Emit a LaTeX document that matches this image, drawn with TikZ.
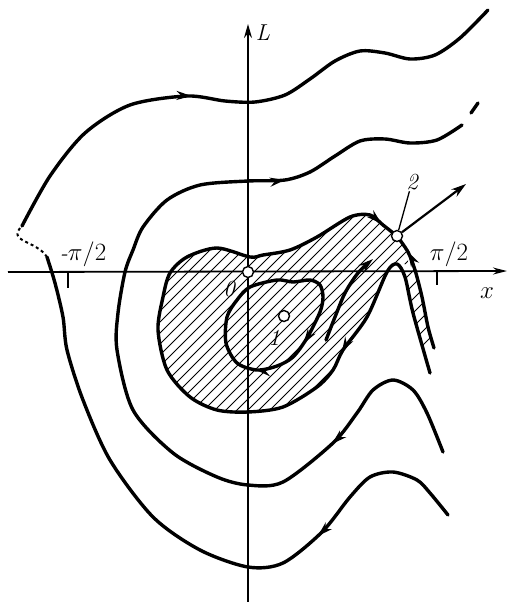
\documentclass[tikz,border=0pt]{standalone}
\usetikzlibrary{arrows.meta,decorations.markings}
\tikzset{
  traj/.style={line width=3.4pt,line cap=round,line join=round},
  onearrow/.style={postaction={decorate},decoration={markings,
    mark=at position #1 with {\arrow{Stealth[length=15pt,width=9pt]}}}},
  twoarrows/.style 2 args={postaction={decorate},decoration={markings,
    mark=at position #1 with {\arrow{Stealth[length=15pt,width=9pt]}},
    mark=at position #2 with {\arrow{Stealth[length=15pt,width=9pt]}}}},
  pt/.style={circle,draw,fill=white,line width=1.4pt,inner sep=0pt,minimum size=11pt},
  hatch/.style={line width=0.9pt},
  lab/.style={font=\fontsize{23}{27}\selectfont\itshape,inner sep=1pt}
}
\begin{document}
\begin{tikzpicture}[x=1pt,y=-1pt,>=Stealth,thick]
  \useasboundingbox (0,0) rectangle (508,602);
  \coordinate (c0) at (248,272);
  \coordinate (c1) at (284,316);
  \coordinate (c2) at (397,236);
  \coordinate (out2) at (466,184);
  % axes
  \draw[line width=1.8pt,-{Stealth[length=14pt,width=8pt]}] (248,602) -- (248,24);
  \draw[line width=1.8pt,-{Stealth[length=14pt,width=7pt]}] (8,272) -- (507,271);
  \draw[line width=1.5pt] (68,272) -- (68,288);
  \draw[line width=1.5pt] (437,271) -- (437,285);
  % hatched region
  \begin{scope}
    \clip plot[smooth cycle] coordinates {(397,263) (387,272) (367,317) (343,350) (333,370) (317,387)
      (283,407) (248,412) (217,410) (190,397) (167,370) (158,330) (163,297) (170,273) (187,257)
      (217,248) (250,257) (263,255) (290,250) (317,237) (350,217) (370,215) (383,225) (397,237)
      (405,250) (408,264)};
    \foreach \c in {350,361,...,840} \draw[hatch] (\c-460,460) -- (\c-200,200);
  \end{scope}
  \begin{scope}
    \clip (405,277) -- (413,313) -- (423,350) -- (434,348) -- (428,327) -- (422,297) -- (414,268) -- cycle;
    \foreach \c in {684,698,...,790} \draw[hatch] (\c-460,460) -- (\c-200,200);
  \end{scope}
  % trajectories
  \draw[traj,onearrow=0.27] plot[smooth] coordinates {(448,515) (430,493) (417,480) (393,472) (370,477)
    (350,497) (322,532) (283,563) (248,567) (200,550) (153,517) (110,460) (83,400) (67,350) (63,317)
    (55,283) (47,257)};
  \draw[line width=2pt,dashed] (47,257) .. controls (36,240) and (6,242) .. (22,226);
  \draw[traj,onearrow=0.41] plot[smooth] coordinates {(22,226) (50,176) (85,133) (130,105) (187,96)
    (225,101) (255,102) (285,95) (310,79) (335,61) (360,51) (385,53) (410,59) (435,55) (460,38) (488,10)};
  \draw[traj,twoarrows={0.19}{0.80}] plot[smooth] coordinates {(443,452) (427,413) (413,390) (393,380)
    (373,390) (357,413) (333,443) (283,482) (248,485) (217,477) (173,453) (133,410) (117,350) (118,313)
    (125,272) (133,250) (143,227) (167,200) (200,185) (248,181) (285,180) (310,172) (335,156) (360,141)
    (385,139) (410,143) (437,140) (462,125)};
  \draw[traj] (471,113) -- (478,103);
  \draw[traj,twoarrows={0.28}{0.975}] plot[smooth] coordinates {(430,373) (413,313) (405,277) (397,264)
    (387,272) (367,317) (343,350) (333,370) (317,387) (283,407) (248,412) (217,410) (190,397) (167,370)
    (158,330) (163,297) (170,273) (187,257) (217,248) (250,257) (263,255) (290,250) (317,237) (350,217)
    (370,215) (383,225) (c2)};
  \draw[traj,onearrow=0.84] plot[smooth] coordinates {(434,348) (428,327) (422,297) (415,270) (408,252) (c2)};
  \draw[traj,twoarrows={0.36}{0.55}] plot[smooth cycle] coordinates {(250,287) (277,280) (293,282)
    (310,280) (320,285) (323,297) (320,312) (307,338) (293,357) (277,366) (257,370) (237,363) (226,343)
    (227,317) (237,300)};
  \draw[traj,-{Stealth[length=15pt,width=9pt]}] plot[smooth] coordinates {(326,340) (335,317) (345,293)
    (358,273) (373,259)};
  % singular points
  \node[pt] (P0) at (c0) {};
  \node[pt] (P1) at (c1) {};
  \node[pt] (P2) at (c2) {};
  \draw[line width=2.2pt,-{Stealth[length=15pt,width=9pt]}] (P2) -- (out2);
  % labels
  \node[lab] (labL) at (263,33) {L};
  \node[lab] (labx) at (487,293) {$x$};
  \node[lab] (labpi) at (449,254) {$\pi/2$};
  \node[lab] (labmpi) at (83,254) {-$\pi/2$};
  \node[lab] (lab0) at (229,289) {0};
  \node[lab] (lab1) at (274,338) {1};
  \node[lab] (lab2) at (412,182) {2};
  \draw[line width=1.3pt] (lab2) -- (P2);
\end{tikzpicture}
\end{document}
